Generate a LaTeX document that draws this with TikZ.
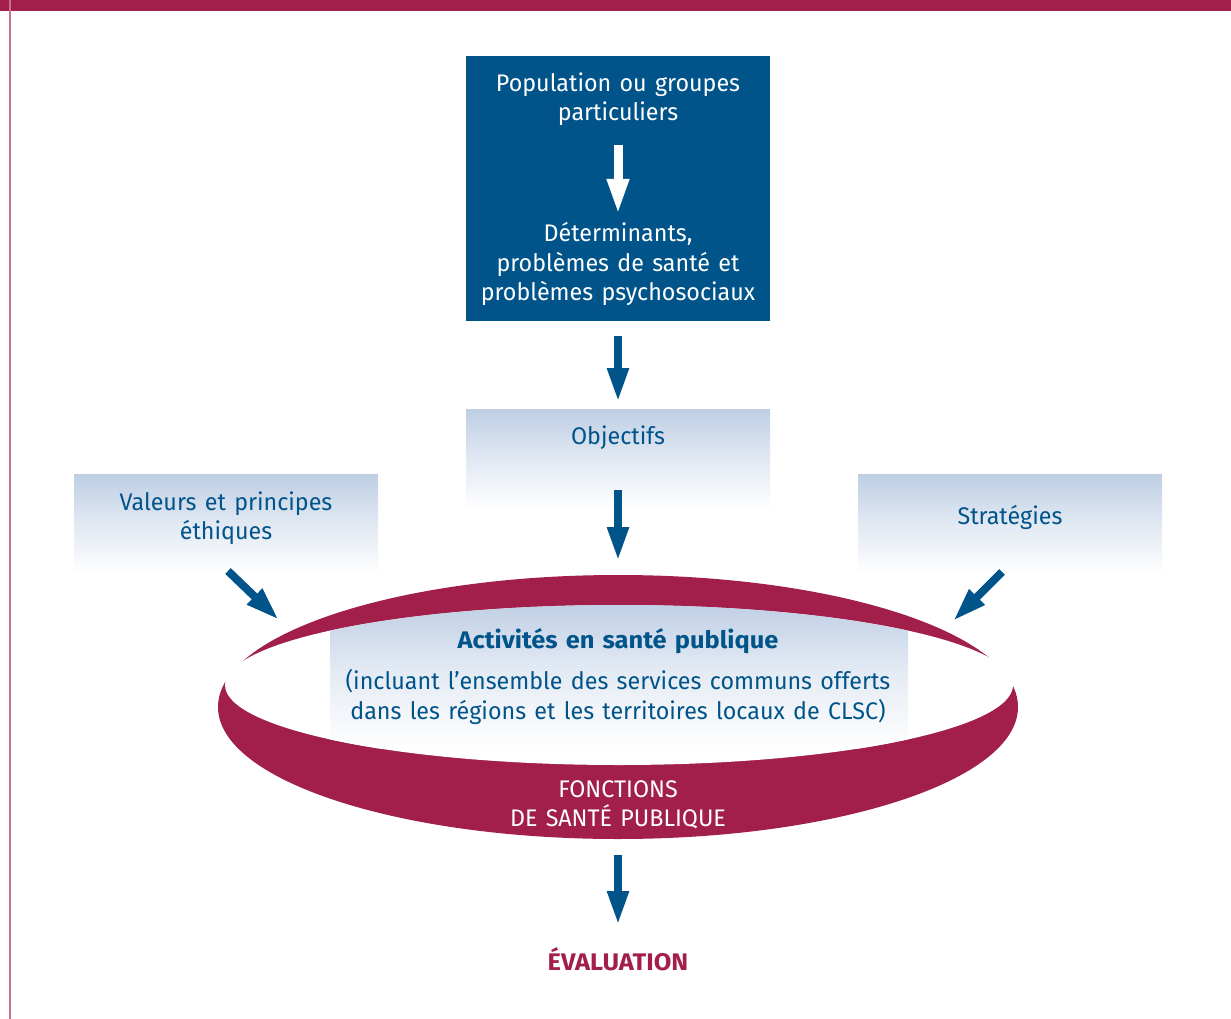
\documentclass[tikz,border=0pt]{standalone}
\usepackage{fontspec}
\setmainfont{Fira Sans}[FakeStretch=0.97, WordSpace=1.35, BoldFeatures={FakeStretch=1.06}]
\usetikzlibrary{arrows.meta}
\definecolor{crimson}{RGB}{163,31,75}
\definecolor{pinkline}{RGB}{200,112,150}
\definecolor{dblue}{RGB}{0,84,138}
\definecolor{lblue}{RGB}{190,206,228}
\tikzset{
  txt/.style={align=center, inner sep=0pt, font=\fontsize{24}{29.5}\selectfont},
  lbox/.style={shading=axis, top color=lblue, bottom color=white, middle color=lblue!45},
  barrow/.style={draw=dblue, line width=8pt, -{Triangle[width=20pt,length=34pt]}, shorten >=0pt},
  warrow/.style={draw=white, line width=9pt, -{Triangle[width=20pt,length=36pt]}}
}
\begin{document}
\begin{tikzpicture}[x=1pt,y=-1pt]
\useasboundingbox (0,0) rectangle (1231,1019);
\fill[white] (0,0) rectangle (1231,1019);
% frame
\fill[crimson] (0,0) rectangle (1231,11);
\fill[pinkline] (9,0) rectangle (11,1019);

% top dark box
\fill[dblue] (466,56) rectangle (770,321);
\node[txt, text=white] (pop) at (618,99) {Population ou groupes\\particuliers};
\node[txt, text=white] (det) at (618,264) {Déterminants,\\problèmes de santé et\\problèmes psychosociaux};
\coordinate (popb) at (618,145);
\coordinate (dett) at (618,215);
\draw[warrow] (popb) -- (dett);

% light boxes
\shade[lbox] (466,409) rectangle (770,510);
\node[txt, text=dblue] (obj) at (618,438) {Objectifs};
\shade[lbox] (74,474) rectangle (378,575);
\node[txt, text=dblue] (val) at (226,518) {Valeurs et principes\\éthiques};
\shade[lbox] (858,474) rectangle (1162,575);
\node[txt, text=dblue] (str) at (1010,517) {Stratégies};

% ring
\fill[crimson] (618,707) ellipse [x radius=400, y radius=132];
\fill[white] (619,685) ellipse [x radius=394, y radius=80];
\begin{scope}
\clip (619,685) ellipse [x radius=394, y radius=80];
\shade[shading=axis, top color=lblue, bottom color=white, middle color=lblue!40] (330,600) rectangle (908,748);
\end{scope}
\node[txt, text=dblue, font=\fontsize{24}{29.5}\selectfont\bfseries] (act) at (618,641) {Activités en santé publique};
\node[txt, text=dblue] (inc) at (618,697) {(incluant l’ensemble des services communs offerts\\dans les régions et les territoires locaux de CLSC)};
\node[txt, text=white] (fon) at (618,805) {FONCTIONS\\DE SANTÉ PUBLIQUE};
\node[txt, text=crimson, font=\fontsize{24}{29.5}\selectfont\bfseries] (eva) at (618,959) {ÉVALUATION};

% arrows
\coordinate (a1s) at (618,336); \coordinate (a1e) at (618,402);
\coordinate (a2s) at (618,490); \coordinate (a2e) at (618,561);
\coordinate (a3s) at (228,571); \coordinate (a3e) at (279,620);
\coordinate (a4s) at (1002,572); \coordinate (a4e) at (953,621);
\coordinate (a5s) at (618,855); \coordinate (a5e) at (618,925);
\draw[barrow] (a1s) -- (a1e);
\draw[barrow] (a2s) -- (a2e);
\draw[barrow] (a3s) -- (a3e);
\draw[barrow] (a4s) -- (a4e);
\draw[barrow] (a5s) -- (a5e);
\end{tikzpicture}
\end{document}
